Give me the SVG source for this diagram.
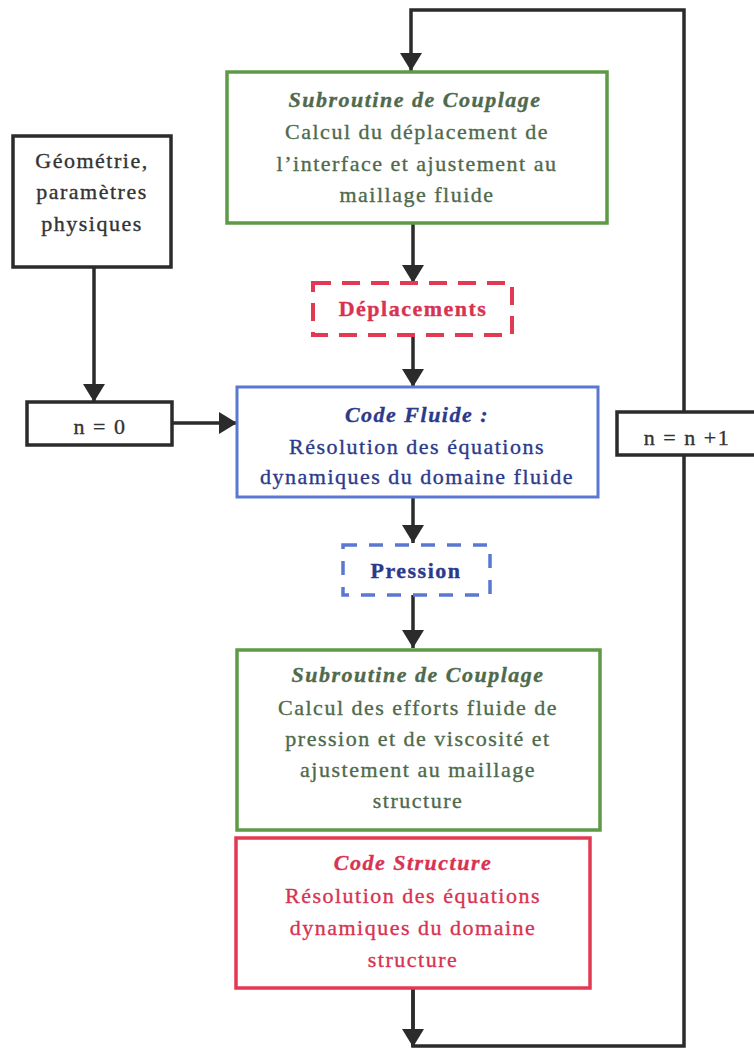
<svg xmlns="http://www.w3.org/2000/svg" width="754" height="1049" viewBox="0 0 754 1049">
<defs>
<marker id="ah" markerUnits="userSpaceOnUse" markerWidth="20" markerHeight="22" refX="18" refY="11" orient="auto">
<path d="M0,0 L18,11 L0,22 Z" fill="#2b2b2b"/>
</marker>
<style>
text{font-family:"Liberation Serif","Times New Roman",serif;font-size:22px;letter-spacing:1.5px;text-anchor:middle;stroke-width:0.35px}
.bx{fill:#fff}
.g{stroke:#5e9a45;stroke-width:3.5}
.b{stroke:#5a78d0;stroke-width:3}
.r{stroke:#e23a52;stroke-width:3.5}
.k{stroke:#2b2b2b;stroke-width:3.5}
.dr{stroke:#e23a52;stroke-width:4;stroke-dasharray:18 11}
.db{stroke:#5a78d0;stroke-width:3.5;stroke-dasharray:14 12}
.tg{fill:#4f6a4c;stroke:#4f6a4c}
.tb{fill:#2c3a8c;stroke:#2c3a8c}
.tr{fill:#d83352;stroke:#d83352}
.tk{fill:#333;stroke:#333}
.h{font-weight:bold;font-style:italic}
.c{stroke:#2b2b2b;stroke-width:3.5;fill:none}
</style>
</defs>
<rect width="754" height="1049" fill="#fff"/>
<g id="connectors">
<path class="c" d="M413,988 V1046 H684 V10 H411 V71" marker-end="url(#ah)"/>
<path class="c" d="M413,988 V1047" marker-end="url(#ah)"/>
<path class="c" d="M413,223 V283" marker-end="url(#ah)"/>
<path class="c" d="M413,335 V387" marker-end="url(#ah)"/>
<path class="c" d="M413,497 V543" marker-end="url(#ah)"/>
<path class="c" d="M413,595 V648" marker-end="url(#ah)"/>
<path class="c" d="M94,267 V402" marker-end="url(#ah)"/>
<path class="c" d="M172,423 H237" marker-end="url(#ah)"/>
</g>
<g id="geometrie">
<rect class="bx k" x="13" y="136" width="158" height="131"/>
<text class="tk" x="92" y="168">Géométrie,</text>
<text class="tk" x="92" y="199">paramètres</text>
<text class="tk" x="92" y="231">physiques</text>
</g>
<g id="n0">
<rect class="bx k" x="27" y="402" width="145" height="43"/>
<text class="tk" x="100" y="434">n = 0</text>
</g>
<g id="couplage1">
<rect class="bx g" x="227" y="72" width="380" height="151"/>
<text class="tg h" x="415" y="107">Subroutine de Couplage</text>
<text class="tg" x="417" y="139">Calcul du déplacement de</text>
<text class="tg" x="417" y="171">l’interface et ajustement au</text>
<text class="tg" x="417" y="202">maillage fluide</text>
</g>
<g id="deplacements">
<rect class="bx dr" x="313" y="283" width="199" height="52"/>
<text class="tr" style="font-weight:bold" x="413" y="316">Déplacements</text>
</g>
<g id="fluide">
<rect class="bx b" x="237" y="387" width="361" height="110"/>
<text class="tb h" x="417" y="422">Code Fluide :</text>
<text class="tb" x="417" y="454">Résolution des équations</text>
<text class="tb" x="417" y="484">dynamiques du domaine fluide</text>
</g>
<g id="pression">
<rect class="bx db" x="343" y="545" width="147" height="50"/>
<text class="tb" style="font-weight:bold" x="416" y="578">Pression</text>
</g>
<g id="couplage2">
<rect class="bx g" x="237" y="650" width="363" height="180"/>
<text class="tg h" x="418" y="682">Subroutine de Couplage</text>
<text class="tg" x="418" y="715">Calcul des efforts fluide de</text>
<text class="tg" x="418" y="746">pression et de viscosité et</text>
<text class="tg" x="418" y="777">ajustement au maillage</text>
<text class="tg" x="418" y="808">structure</text>
</g>
<g id="structure">
<rect class="bx r" x="236" y="838" width="354" height="150"/>
<text class="tr h" x="413" y="870">Code Structure</text>
<text class="tr" x="413" y="903">Résolution des équations</text>
<text class="tr" x="413" y="935">dynamiques du domaine</text>
<text class="tr" x="413" y="967">structure</text>
</g>
<g id="n1">
<rect class="bx k" x="617" y="412" width="150" height="43"/>
<text class="tk" x="687" y="445">n = n +1</text>
</g>
</svg>
